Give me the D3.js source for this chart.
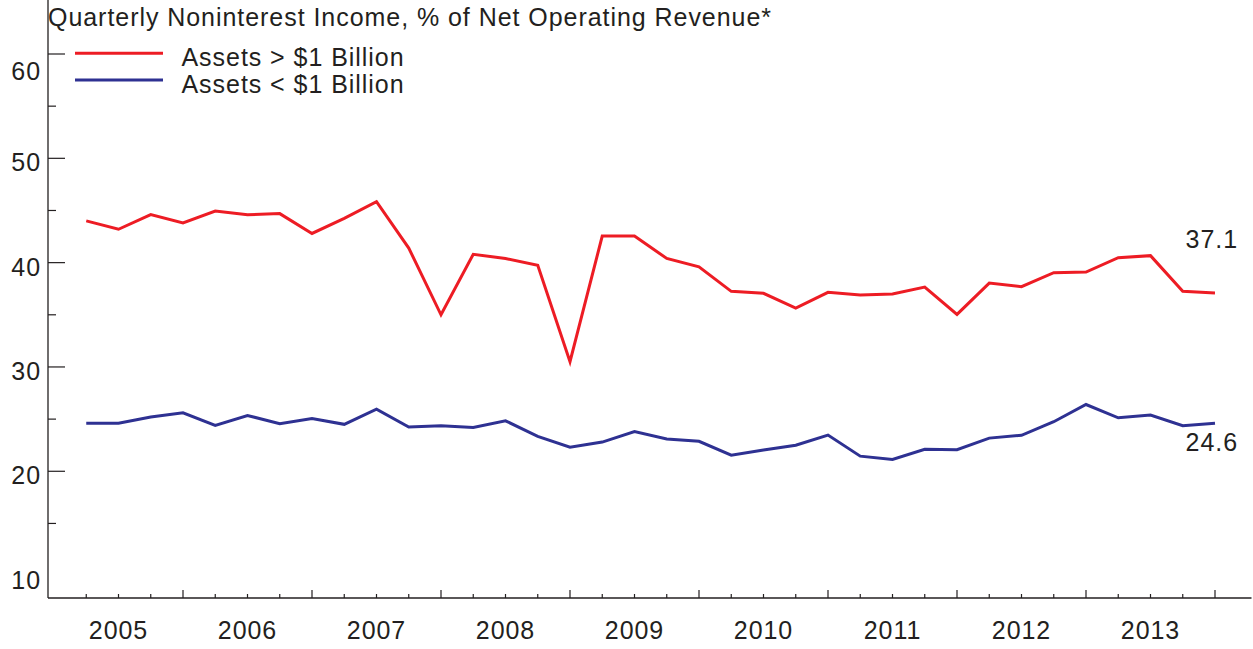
<!DOCTYPE html>
<html>
<head>
<meta charset="utf-8">
<script src="https://cdn.jsdelivr.net/npm/d3@7"></script>
<style>
  body { margin: 0; background: #fff; }
  svg { display: block; font-family: "Liberation Sans", Arial, sans-serif; }
  .frame { fill: none; stroke: #6d6e71; stroke-width: 1.2; }
  .axis-line { stroke: #231f20; stroke-width: 1.3; fill: none; }
  .tick-line { stroke: #231f20; stroke-width: 1.2; }
  .lbl { fill: #231f20; font-size: 25px; letter-spacing: 0.95px; }
  .series { fill: none; stroke-width: 3; stroke-linejoin: miter; }
</style>
</head>
<body>
<svg width="1253" height="649"></svg>
<script>
// quarterly, 2005 Q1 .. 2013 Q4
var years = [2005, 2006, 2007, 2008, 2009, 2010, 2011, 2012, 2013];
var bigBanks = [44.0, 43.2, 44.6, 43.8, 44.95, 44.6, 44.7, 42.8, 44.25, 45.85, 41.4, 35.0,
                40.8, 40.4, 39.74, 30.5, 42.55, 42.55, 40.4, 39.6, 37.25, 37.06, 35.65, 37.15,
                36.9, 37.0, 37.66, 35.04, 38.04, 37.7, 39.04, 39.1, 40.47, 40.67, 37.25, 37.1];
var smallBanks = [24.6, 24.6, 25.2, 25.6, 24.4, 25.35, 24.55, 25.05, 24.5, 25.96, 24.24, 24.37,
                  24.2, 24.84, 23.35, 22.3, 22.8, 23.8, 23.1, 22.87, 21.55, 22.03, 22.5, 23.47,
                  21.45, 21.14, 22.1, 22.07, 23.18, 23.45, 24.75, 26.4, 25.13, 25.39, 24.37, 24.6];
var yTicks = [10, 20, 30, 40, 50, 60];
var seriesNames = ["Assets > $1 Billion", "Assets < $1 Billion"];
var colors = ["#ed1c24", "#2e3192"];
var endLabels = ["37.1", "24.6"];

var svg = d3.select("svg"),
    left = 48, right = 1251.5, top = 31, bottom = 598;

var x = d3.scaleLinear()
    .domain([0, bigBanks.length - 1])
    .range([86.25, 1215]);

var y = d3.scaleLinear()
    .domain([10, 60])
    .range([575.6, 54]);

// title
svg.append("text")
    .attr("class", "lbl")
    .attr("x", left)
    .attr("y", 26)
    .text("Quarterly Noninterest Income, % of Net Operating Revenue*");

// frame
svg.append("rect")
    .attr("class", "frame")
    .attr("x", left).attr("y", top)
    .attr("width", right - left).attr("height", bottom - top);
svg.append("line").attr("class", "axis-line")
    .attr("x1", left).attr("x2", left).attr("y1", top).attr("y2", bottom);
svg.append("line").attr("class", "axis-line")
    .attr("x1", left).attr("x2", right).attr("y1", bottom).attr("y2", bottom);

// y ticks, major every 10, minor every 5 (pointing inward)
var yMinor = d3.range(15, 60, 10);
svg.selectAll(".ymaj").data(yTicks.filter(function(d) { return d > 10; }))
  .enter().append("line")
    .attr("class", "tick-line")
    .attr("x1", left).attr("x2", left + 17)
    .attr("y1", function(d) { return y(d); }).attr("y2", function(d) { return y(d); });
svg.selectAll(".ymin").data(yMinor)
  .enter().append("line")
    .attr("class", "tick-line")
    .attr("x1", left).attr("x2", left + 8)
    .attr("y1", function(d) { return y(d); }).attr("y2", function(d) { return y(d); });
svg.selectAll(".ylab").data(yTicks)
  .enter().append("text")
    .attr("class", "lbl")
    .attr("text-anchor", "end")
    .attr("x", 41)
    .attr("y", function(d) { return y(d) + (d == 60 ? 26 : 13); })
    .text(function(d) { return d; });

// x ticks, one per quarter, longer at each year end
svg.selectAll(".xtick").data(bigBanks)
  .enter().append("line")
    .attr("class", "tick-line")
    .attr("x1", function(d, i) { return x(i); }).attr("x2", function(d, i) { return x(i); })
    .attr("y1", bottom)
    .attr("y2", function(d, i) { return i % 4 == 3 ? bottom - 8 : bottom - 4; });
svg.selectAll(".xlab").data(years)
  .enter().append("text")
    .attr("class", "lbl")
    .attr("text-anchor", "middle")
    .attr("x", function(d, i) { return x(i * 4 + 1); })
    .attr("y", 639)
    .text(function(d) { return d; });

// lines
var line = d3.line()
    .x(function(d, i) { return x(i); })
    .y(function(d) { return y(d); });

[bigBanks, smallBanks].forEach(function(s, j) {
    svg.append("path")
        .attr("class", "series")
        .attr("stroke", colors[j])
        .attr("d", line(s));
});

// end labels
svg.append("text").attr("class", "lbl").attr("text-anchor", "end")
    .attr("x", 1238).attr("y", 248).text(endLabels[0]);
svg.append("text").attr("class", "lbl").attr("text-anchor", "end")
    .attr("x", 1238).attr("y", 451).text(endLabels[1]);

// legend
var legend = svg.selectAll(".legend").data(seriesNames)
  .enter().append("g")
    .attr("transform", function(d, i) { return "translate(0," + (53.3 + i * 26.7) + ")"; });
legend.append("line")
    .attr("x1", 75).attr("x2", 163)
    .attr("stroke", function(d, i) { return colors[i]; })
    .attr("stroke-width", 3);
legend.append("text")
    .attr("class", "lbl")
    .attr("x", 181.5).attr("y", 13)
    .text(function(d) { return d; });
</script>
</body>
</html>
